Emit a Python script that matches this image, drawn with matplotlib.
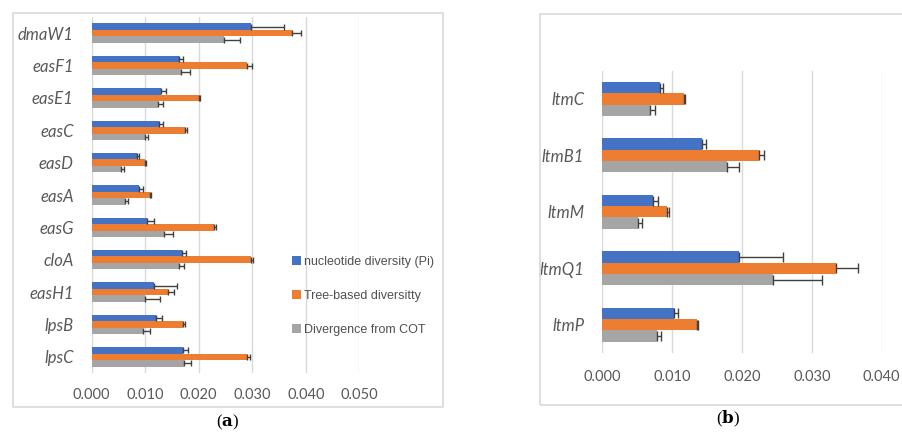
import matplotlib
matplotlib.use("Agg")
import matplotlib.pyplot as plt
from matplotlib.patches import Rectangle
import numpy as np

# ---------------- data ----------------
genes_a = ["dmaW1", "easF1", "easE1", "easC", "easD", "easA",
           "easG", "cloA", "easH1", "lpsB", "lpsC"]
pi_a = [0.0297, 0.0164, 0.0130, 0.0126, 0.0084, 0.0088,
        0.0104, 0.0169, 0.0116, 0.0121, 0.0170]
pi_err_a = [0.0062, 0.0007, 0.0008, 0.0007, 0.0005, 0.0007,
            0.0012, 0.0007, 0.0044, 0.0010, 0.0009]
tree_a = [0.0375, 0.0291, 0.0200, 0.0175, 0.0100, 0.0109,
          0.0229, 0.0298, 0.0143, 0.0171, 0.0290]
tree_err_a = [0.0017, 0.0009, 0.0003, 0.0003, 0.0002, 0.0002,
              0.0004, 0.0004, 0.0010, 0.0004, 0.0005]
cot_a = [0.0248, 0.0166, 0.0124, 0.0099, 0.0055, 0.0062,
         0.0135, 0.0163, 0.0099, 0.0096, 0.0172]
cot_err_a = [0.0030, 0.0018, 0.0010, 0.0007, 0.0006, 0.0006,
             0.0016, 0.0010, 0.0029, 0.0012, 0.0014]

genes_b = ["ltmC", "ltmB1", "ltmM", "ltmQ1", "ltmP"]
pi_b = [0.0082, 0.0143, 0.0073, 0.0195, 0.0102]
pi_err_b = [0.0005, 0.0005, 0.0007, 0.0064, 0.0006]
tree_b = [0.0117, 0.0225, 0.0093, 0.0335, 0.0135]
tree_err_b = [0.0002, 0.0007, 0.0002, 0.0031, 0.0002]
cot_b = [0.0068, 0.0179, 0.0051, 0.0245, 0.0079]
cot_err_b = [0.0007, 0.0016, 0.0006, 0.0070, 0.0005]

series_names = ["nucleotide diversity (Pi)", "Tree-based diversitty",
                "Divergence from COT"]
colors = ["#4472C4", "#ED7D31", "#A5A5A5"]
ticks_a = [0.0, 0.01, 0.02, 0.03, 0.04, 0.05]
ticks_b = [0.0, 0.01, 0.02, 0.03, 0.04]

W, H = 903, 432
fig = plt.figure(figsize=(W / 100, H / 100), dpi=100)


def px_axes(x0, y0, x1, y1):
    return fig.add_axes([x0 / W, 1 - y1 / H, (x1 - x0) / W, (y1 - y0) / H])


def draw_panel(ax, genes, vals, errs, ticks, xmax, capsize, pad):
    y = np.arange(len(genes))
    h = 0.2
    bars = []
    for i, (v, e) in enumerate(zip(vals, errs)):
        b = ax.barh(y + (i - 1) * h, v, height=h, color=colors[i],
                    xerr=[np.zeros(len(e)), e], capsize=capsize,
                    error_kw=dict(ecolor="#404040", elinewidth=1, capthick=1),
                    zorder=3)
        bars.append(b)
    ax.set_ylim(len(genes) - 0.5, -0.5)
    ax.set_xlim(0, xmax)
    ax.set_xticks(ticks)
    ax.set_xticklabels([f"{t:.3f}" for t in ticks], family="Lato",
                       fontsize=10.5, color="#595959")
    ax.set_yticks(y)
    ax.set_yticklabels(genes, family="Lato", style="italic", fontsize=12,
                       color="#595959")
    ax.tick_params(length=0)
    ax.tick_params(axis="x", pad=pad)
    ax.tick_params(axis="y", pad=13)
    ax.grid(axis="x", color="#D9D9D9", lw=1, zorder=0)
    for s in ax.spines.values():
        s.set_visible(False)
    return bars


# ---------------- panel (a) ----------------
ax_a = px_axes(91.7, 17, 359.3, 373)
bars = draw_panel(ax_a, genes_a, [pi_a, tree_a, cot_a],
                  [pi_err_a, tree_err_a, cot_err_a], ticks_a, 0.05, 2.5, 11)
fig.legend(bars, series_names, loc="center left",
           bbox_to_anchor=(292 / W, 1 - 296 / H), frameon=False,
           borderpad=0, borderaxespad=0, handlelength=0.75, handleheight=0.75,
           handletextpad=0.2, labelspacing=1.75,
           prop=dict(family="Liberation Sans", size=9), labelcolor="#505050")

# ---------------- panel (b) ----------------
ax_b = px_axes(602.3, 70.7, 881.7, 353)
draw_panel(ax_b, genes_b, [pi_b, tree_b, cot_b],
           [pi_err_b, tree_err_b, cot_err_b], ticks_b, 0.04, 3.3, 12)

# outer chart boxes
for x0, y0, x1, y1 in [(13, 13, 443, 407), (540, 14, 920, 405)]:
    fig.patches.append(Rectangle((x0 / W, 1 - y1 / H), (x1 - x0) / W,
                                 (y1 - y0) / H, transform=fig.transFigure,
                                 fill=False, edgecolor="#D9D9D9", lw=1.2))

# panel captions
for xc, yc, letter in [(228, 422, "a"), (728, 419, "b")]:
    fig.text(xc / W, 1 - yc / H, r"(" + r"$\mathbf{" + letter + r"}$" + ")",
             ha="center", va="center", family="Liberation Serif", fontsize=12,
             math_fontfamily="dejavuserif")

fig.savefig("out.png", dpi=100)
